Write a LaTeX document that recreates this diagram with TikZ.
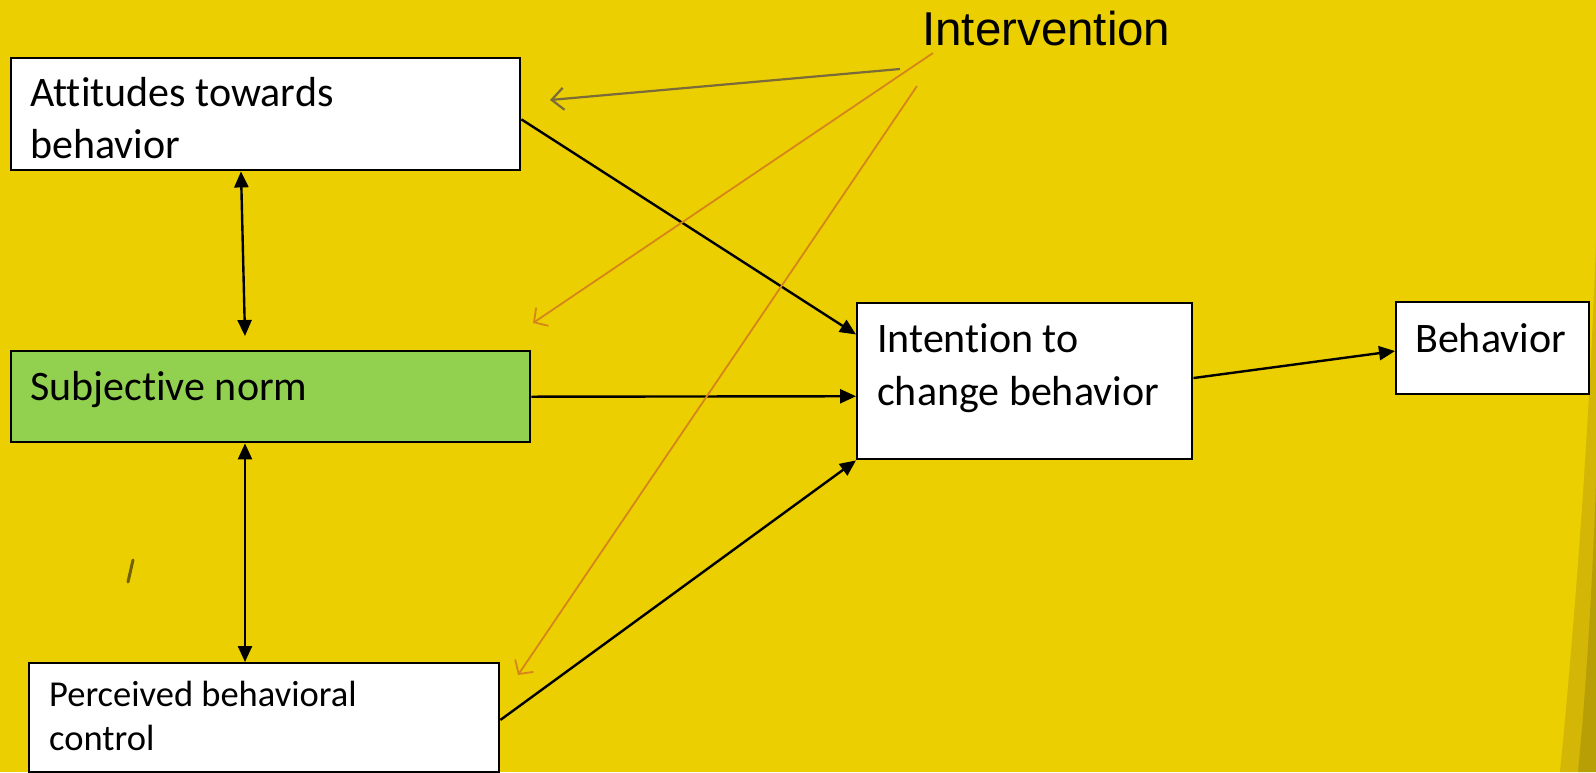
\documentclass[tikz,border=0pt]{standalone}
\usepackage{fontspec}
\setmainfont[Ligatures={NoCommon}]{Carlito}
\newfontfamily\arialfont{Liberation Sans}
\usetikzlibrary{arrows.meta,calc}
\definecolor{bgyellow}{RGB}{235,207,0}
\definecolor{boxgreen}{RGB}{146,208,80}
\definecolor{intorange}{RGB}{214,132,28}
\definecolor{intgrey}{RGB}{123,107,58}
\definecolor{shadeband}{RGB}{205,176,8}
\tikzset{
  box/.style={draw=black,line width=2.4pt,fill=white,rectangle,inner sep=0pt,anchor=north west},
  txt/.style={inner sep=0pt,anchor=base west,font=\fontsize{42}{50}\selectfont},
  smalltxt/.style={inner sep=0pt,anchor=base west,font=\fontsize{36.5}{44}\selectfont},
  conn/.style={draw=black,line width=2.4pt,-{Triangle[length=16pt,width=14pt]}},
  dconn/.style={draw=black,line width=2.4pt,{Triangle[length=16pt,width=14pt]}-{Triangle[length=16pt,width=14pt]}},
  ivorange/.style={draw=intorange,line width=1.8pt,-{Straight Barb[length=10pt,width=22pt,line width=1.8pt]}},
  ivgrey/.style={draw=intgrey,line width=2.2pt,-{Straight Barb[length=12pt,width=22pt,line width=2.2pt]}}
}
\begin{document}
\begin{tikzpicture}[x=1pt,y=-1pt]
\useasboundingbox (0,0) rectangle (1596,772);
\fill[bgyellow] (0,0) rectangle (1596,772);
% page curl shading at the right edge
\fill[shadeband,opacity=0.8] (1596,240) .. controls (1590,420) and (1575,620) .. (1560,772) -- (1596,772) -- cycle;
\fill[shadeband!75!black,opacity=0.45] (1596,480) .. controls (1592,600) and (1585,700) .. (1578,772) -- (1596,772) -- cycle;
% small mark
\draw[shadeband!55!black,line width=3pt,line cap=round] (133,560) -- (128,582);

% boxes
\node[box,minimum width=509pt,minimum height=112pt] (att) at (10,57) {};
\node[box,fill=boxgreen,minimum width=519pt,minimum height=91pt] (sub) at (10,350) {};
\node[box,minimum width=470pt,minimum height=109pt] (per) at (28,662) {};
\node[box,minimum width=335pt,minimum height=156pt] (int) at (856,302) {};
\node[box,minimum width=193pt,minimum height=92pt] (beh) at (1395,301) {};

% texts
\node[txt] (attA) at (30,106) {Attitudes towards};
\node[txt] (attB) at (30,158) {behavior};
\node[txt] (subA) at (30,400) {Subjective norm};
\node[smalltxt] (perA) at (49,706) {Perceived behavioral};
\node[smalltxt] (perB) at (49,750) {control};
\node[txt] (intA) at (877,352) {Intention to};
\node[txt] (intB) at (877,405) {change behavior};
\node[txt] (behA) at (1415,352) {Behavior};
\node[inner sep=0pt,anchor=base west,font=\arialfont\fontsize{47.5}{56}\selectfont] (iv) at (922,45) {Intervention};

% black connectors
\coordinate (attS) at ($(att.south west)+(231,0)$);
\coordinate (subN) at ($(sub.north west)+(235,-14)$);
\draw[dconn] (attS) -- (subN);
\coordinate (subS) at ($(sub.south west)+(235,0)$);
\coordinate (perN) at ($(per.north west)+(217,0)$);
\draw[dconn] (subS) -- (perN);
\draw[conn] ($(att.north east)!0.545!(att.south east)$) -- ($(int.north west)!0.205!(int.south west)$);
\draw[conn] (sub.east) -- ($(int.north west)!0.595!(int.south west)$);
\draw[conn] ($(per.north east)!0.52!(per.south east)$) -- (int.south west);
\draw[conn] ($(int.north east)!0.48!(int.south east)$) -- ($(beh.north west)!0.53!(beh.south west)$);

% intervention arrows
\coordinate (ivG) at (900,69);
\coordinate (ivO1) at (933,53);
\coordinate (ivO2) at (917,86);
\coordinate (tipA) at (550,100);
\coordinate (tipS) at (533,323);
\coordinate (tipP) at (518,675);
\draw[ivgrey] (ivG) -- (tipA);
\draw[ivorange] (ivO1) -- (tipS);
\draw[ivorange] (ivO2) -- (tipP);
\end{tikzpicture}
\end{document}
